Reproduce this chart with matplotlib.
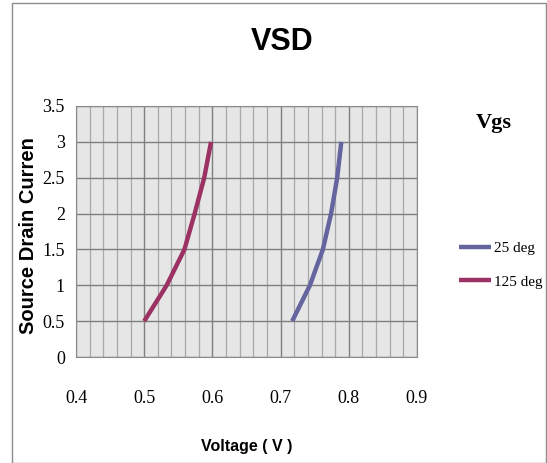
import matplotlib
matplotlib.use("Agg")
import matplotlib.pyplot as plt
from matplotlib.patches import Rectangle
import numpy as np

# data
current = [0.5, 1.0, 1.5, 2.0, 2.5, 3.0]
v_25deg = [0.717, 0.743, 0.762, 0.774, 0.783, 0.789]
v_125deg = [0.500, 0.533, 0.559, 0.574, 0.588, 0.598]
series_names = ["25 deg", "125 deg"]
x_ticks = [0.4, 0.5, 0.6, 0.7, 0.8, 0.9]
x_labels = ["0.4", "0.5", "0.6", "0.7", "0.8", "0.9"]
y_ticks = [0, 0.5, 1, 1.5, 2, 2.5, 3, 3.5]
y_labels = ["0", "0.5", "1", "1.5", "2", "2.5", "3", "3.5"]

serif = ["Liberation Serif", "DejaVu Serif"]
sans = ["Liberation Sans", "DejaVu Sans"]

fig = plt.figure(figsize=(5.47, 4.63), dpi=100)
W, H = 547, 463
ax = fig.add_axes([76 / W, 1 - 357 / H, (417 - 76) / W, (357 - 106) / H])
ax.set_facecolor("#E6E6E6")

ax.plot(v_25deg, current, color="#64649E", lw=3.2, solid_capstyle="butt", label=series_names[0])
ax.plot(v_125deg, current, color="#9C3264", lw=3.2, solid_capstyle="butt", label=series_names[1])

ax.set_xlim(0.4, 0.9)
ax.set_ylim(0, 3.5)
ax.set_xticks(x_ticks)
ax.set_xticklabels(x_labels, family=serif, fontsize=13)
ax.set_xticks(np.arange(0.4, 0.9001, 0.02), minor=True)
ax.set_yticks(y_ticks)
ax.set_yticklabels(y_labels, family=serif, fontsize=13)
ax.tick_params(which="both", length=0)
ax.tick_params(axis="x", pad=24)
ax.tick_params(axis="y", pad=8)
ax.grid(which="major", color="#7F7F7F", lw=1)
ax.grid(which="minor", axis="x", color="#A8A8A8", lw=0.9)
ax.set_axisbelow(True)
for s in ax.spines.values():
    s.set_color("#8C8C8C")

fig.text(282 / W, 1 - 42 / H, "VSD", ha="center", va="center",
         fontsize=22, fontweight="bold", family=sans)
fig.text(29 / W, 1 - 236 / H, "Source Drain Curren", ha="center", va="center",
         rotation=90, fontsize=14.5, fontweight="bold", family=sans)
fig.text(247 / W, 1 - 447 / H, "Voltage ( V )", ha="center", va="center",
         fontsize=11.5, fontweight="bold", family=sans)
fig.text(494 / W, 1 - 123 / H, "Vgs", ha="center", va="center",
         fontsize=16, fontweight="bold", family=serif)

leg = fig.legend(loc="center left", bbox_to_anchor=(445 / W, 1 - 265 / H),
                 frameon=False, prop={"family": serif, "size": 11},
                 handlelength=2.1, handletextpad=0.2, labelspacing=1.3)

# chart frame
fig.patches.append(Rectangle((12 / W, 0), 534 / W, 1 - 3 / H, transform=fig.transFigure,
                             fill=False, edgecolor="#8C8C8C", lw=1))

fig.savefig("out.png", dpi=100)
